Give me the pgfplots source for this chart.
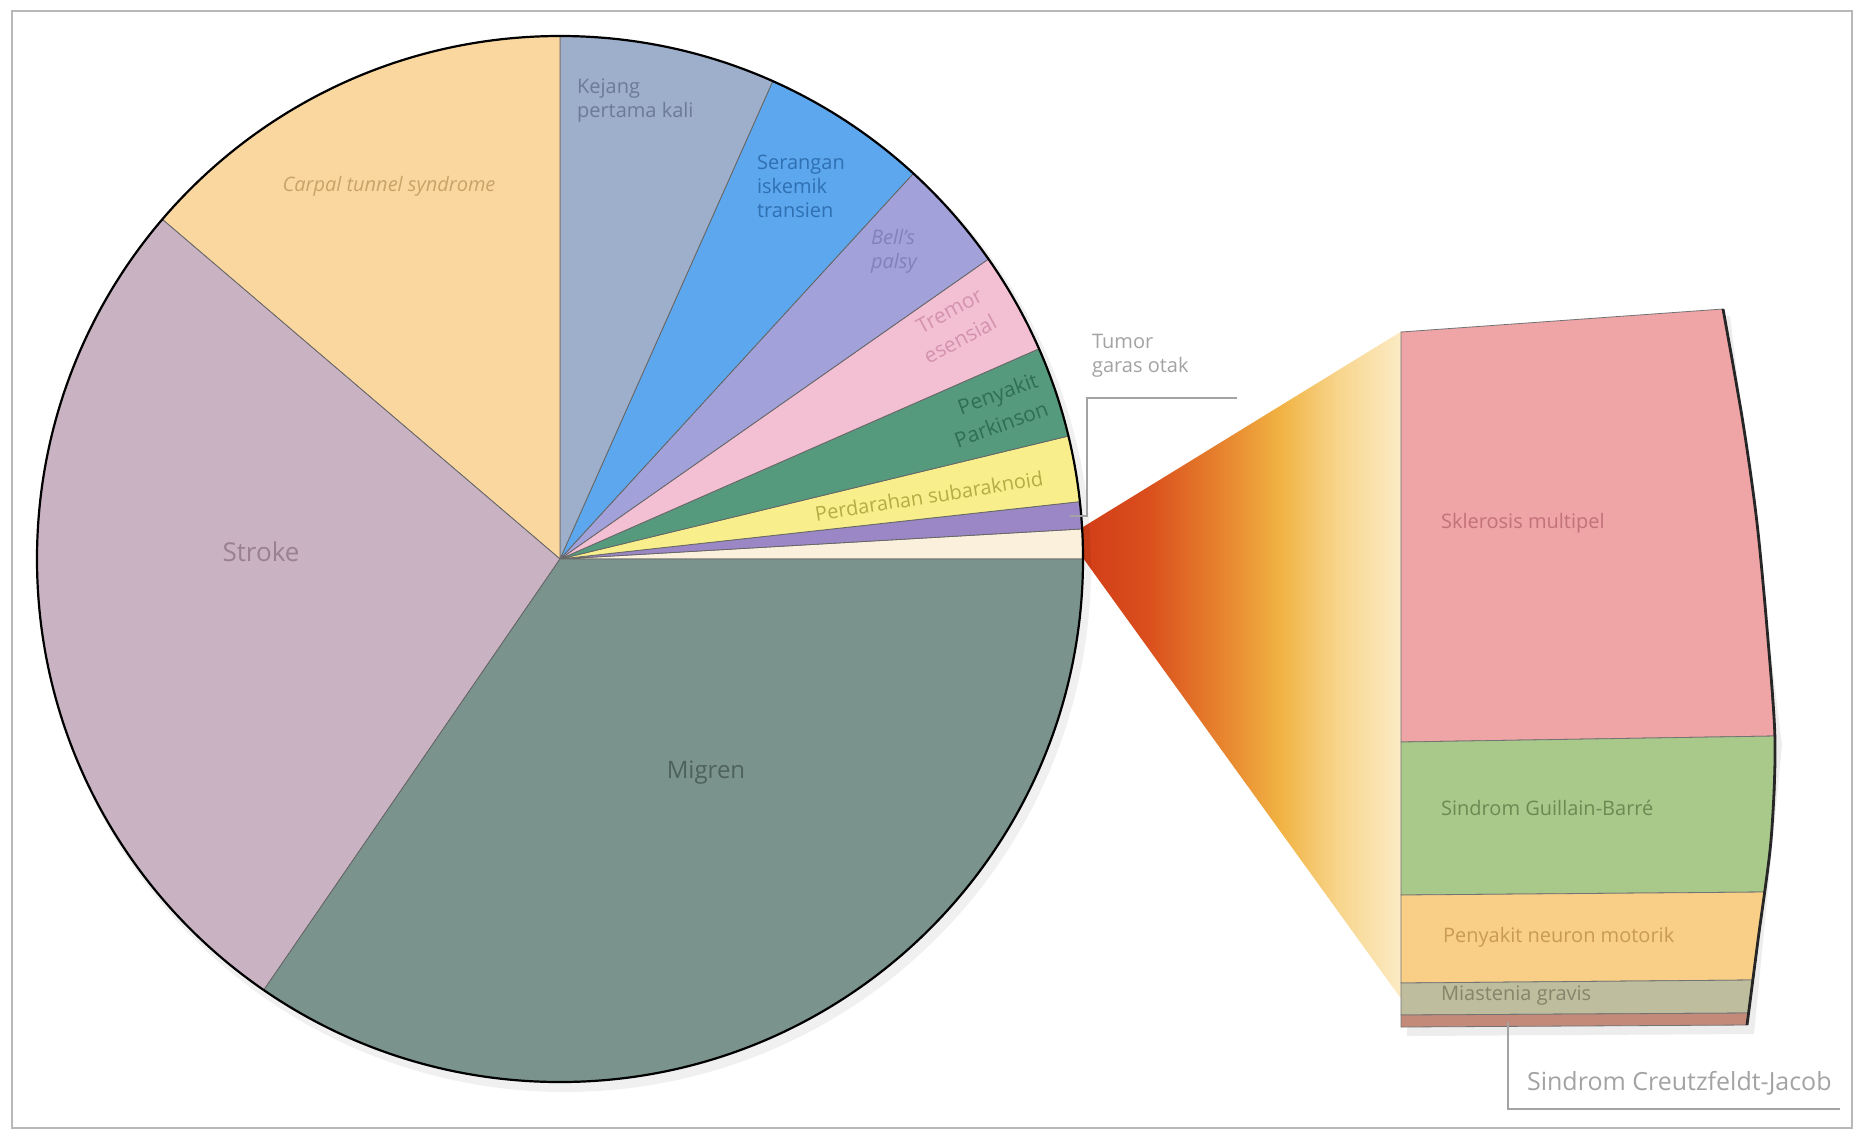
\documentclass[border=0pt]{standalone}
\usepackage{pgfplots}
\pgfplotsset{compat=1.18}
\usepackage{fontspec}
\setmainfont{Open Sans}
% slice colours
\definecolor{cMig}{HTML}{7A938C}
\definecolor{cStroke}{HTML}{C9B3C3}
\definecolor{cCarpal}{HTML}{FAD79F}
\definecolor{cKej}{HTML}{9DAFCB}
\definecolor{cSer}{HTML}{5CA7EE}
\definecolor{cBell}{HTML}{A2A1DA}
\definecolor{cTremor}{HTML}{F3BFD3}
\definecolor{cPark}{HTML}{559A7D}
\definecolor{cPerd}{HTML}{F8EF8C}
\definecolor{cTumor}{HTML}{9C87C6}
\definecolor{cCream}{HTML}{FBF0DC}
% bar colours
\definecolor{cSM}{HTML}{EFA4A6}
\definecolor{cGB}{HTML}{A9C98B}
\definecolor{cPNM}{HTML}{F9CF88}
\definecolor{cMG}{HTML}{BEBE9E}
\definecolor{cCJ}{HTML}{C38A7A}
% text colours
\definecolor{tMig}{HTML}{4E625D}
\definecolor{tStroke}{HTML}{9A8092}
\definecolor{tCarpal}{HTML}{C9A468}
\definecolor{tKej}{HTML}{6B7B98}
\definecolor{tSer}{HTML}{2F70B2}
\definecolor{tBell}{HTML}{8282BA}
\definecolor{tTremor}{HTML}{D493AD}
\definecolor{tPark}{HTML}{2E6F55}
\definecolor{tPerd}{HTML}{B5AC45}
\definecolor{tGray}{HTML}{A3A3A3}
\definecolor{tSM}{HTML}{C27279}
\definecolor{tGB}{HTML}{6A8B52}
\definecolor{tPNM}{HTML}{C99A55}
\definecolor{tMG}{HTML}{85856C}
\definecolor{framegray}{HTML}{B8B8B8}
% wedge gradient
\definecolor{w1}{HTML}{D23E18}
\definecolor{w2}{HTML}{DA4E1D}
\definecolor{w3}{HTML}{E88A30}
\definecolor{w4}{HTML}{F1B343}
\definecolor{w5}{HTML}{F7D58C}
\definecolor{w6}{HTML}{FCEBC6}
\pgfdeclarehorizontalshading{wedgeshade}{100bp}{color(0bp)=(w1); color(25bp)=(w1); color(35bp)=(w2); color(48bp)=(w3); color(56bp)=(w4); color(65bp)=(w5); color(75bp)=(w6); color(100bp)=(w6)}
% one pie slice: colour, start angle, end angle (degrees)
\newcommand{\slice}[3]{\filldraw[fill=#1, draw=black!60, line width=0.4pt] (axis cs:560,559) -- ++(#2:261.5pt) arc[start angle=#2, end angle=#3, radius=261.5pt] -- cycle;}
\begin{document}
\begin{tikzpicture}
\begin{axis}[width=927.5pt, height=565.5pt, scale only axis,
  xmin=0, xmax=1855, ymin=0, ymax=1131, y dir=reverse,
  hide axis, clip=false]
\fill[white] (axis cs:0,0) rectangle (axis cs:1855,1131);
\draw[framegray, line width=0.8pt] (axis cs:12,11) rectangle (axis cs:1852,1128);
% connecting wedge
\addplot[draw=none, shade, shading=wedgeshade] coordinates {(1083,527) (1402,331) (1402,1000) (1083,558)} -- cycle;
% soft shadows
\fill[black, opacity=0.06] (axis cs:565,566) circle[radius=263pt];
\addplot[draw=none, fill=black, fill opacity=0.07] coordinates {(1407,340) (1730,316) (1782,745) (1754,1034) (1407,1036)} -- cycle;
% pie (angles in degrees, share = angle/3.6 %)
\slice{cCream}{0}{3.3}
\slice{cTumor}{3.3}{6.3}
\slice{cPerd}{6.3}{13.6}
\slice{cPark}{13.6}{23.7}
\slice{cTremor}{23.7}{35}
\slice{cBell}{35}{47.5}
\slice{cSer}{47.5}{66}
\slice{cKej}{66}{90}
\slice{cCarpal}{90}{139.5}
\slice{cStroke}{139.5}{235.5}
\slice{cMig}{235.5}{360}
\draw[black, line width=1.1pt] (axis cs:560,559) circle[radius=261.5pt];
% bar of pie
\addplot[fill=cSM, draw=black!55, line width=0.4pt] coordinates {(1401,332) (1723,309) (1733,360) (1743,423) (1751,480) (1757,523) (1763,580) (1768,640) (1772,700) (1775,736) (1401,742)} -- cycle;
\addplot[fill=cGB, draw=black!55, line width=0.4pt] coordinates {(1401,742) (1775,736) (1775,790) (1771,840) (1764,892) (1401,895)} -- cycle;
\addplot[fill=cPNM, draw=black!55, line width=0.4pt] coordinates {(1401,895) (1764,892) (1758,940) (1752,980) (1401,983)} -- cycle;
\addplot[fill=cMG, draw=black!55, line width=0.4pt] coordinates {(1401,983) (1752,980) (1749,1013) (1401,1015)} -- cycle;
\addplot[fill=cCJ, draw=black!55, line width=0.4pt] coordinates {(1401,1015) (1749,1013) (1747,1025) (1401,1027)} -- cycle;
\addplot[black!85, line width=1.4pt, smooth] coordinates {(1723,309) (1743,423) (1757,523) (1768,640) (1775,742) (1771,840) (1758,940) (1747,1025)};
% leader lines
\addplot[tGray, line width=0.7pt] coordinates {(1070,516) (1087,516) (1087,398) (1237,398)};
\addplot[tGray, line width=0.7pt] coordinates {(1508,1022) (1508,1109) (1840,1109)};
% labels
\begingroup
\fontsize{11}{17}\selectfont
\node[text=tMig, font=\fontsize{12}{14}\selectfont] at (axis cs:706,773) {Migren};
\node[text=tStroke, font=\fontsize{13}{15}\selectfont] at (axis cs:261,552) {Stroke};
\node[text=tCarpal, font=\itshape] at (axis cs:389,186) {Carpal tunnel syndrome};
\node[text=tKej, anchor=west, align=left] at (axis cs:570,101) {Kejang\\pertama kali};
\node[text=tSer, anchor=west, align=left] at (axis cs:750,186) {Serangan\\iskemik\\transien};
\node[text=tBell, anchor=west, align=left, font=\itshape] at (axis cs:864,251) {Bell's\\palsy};
\node[text=tTremor, align=right, rotate=28, font=\fontsize{10.5}{15}\selectfont, inner sep=1pt] at (axis cs:953,326) {Tremor\\esensial};
\node[text=tPark, align=right, rotate=20, font=\fontsize{10.5}{15}\selectfont, inner sep=1pt] at (axis cs:996,410) {Penyakit\\Parkinson};
\node[text=tPerd, rotate=9, inner sep=1pt] at (axis cs:929,496) {Perdarahan subaraknoid};
\node[text=tGray, anchor=west, align=left] at (axis cs:1085,356) {Tumor\\garas otak};
\node[text=tSM, anchor=west] at (axis cs:1434,523) {Sklerosis multipel};
\node[text=tGB, anchor=west] at (axis cs:1434,808) {Sindrom Guillain-Barré};
\node[text=tPNM, anchor=west] at (axis cs:1436,937) {Penyakit neuron motorik};
\node[text=tMG, anchor=west] at (axis cs:1434,996) {Miastenia gravis};
\node[text=tGray, anchor=west, font=\fontsize{12.5}{15}\selectfont] at (axis cs:1520,1083) {Sindrom Creutzfeldt-Jacob};
\endgroup
\end{axis}
\pgfresetboundingbox
\path[use as bounding box] (current axis.south west) rectangle (current axis.north east);
\end{tikzpicture}
\end{document}
